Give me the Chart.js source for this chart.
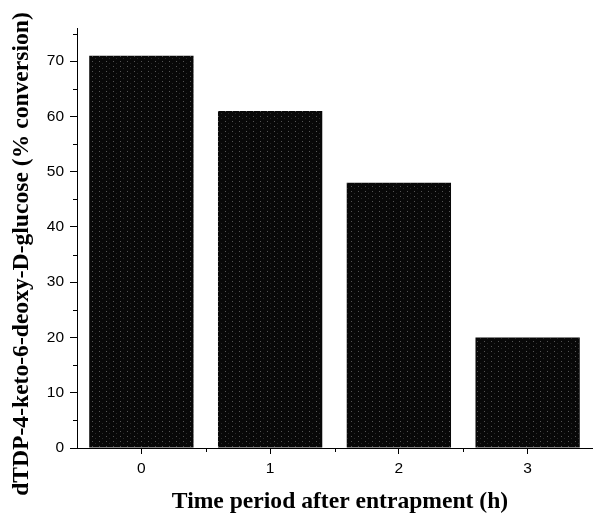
<!DOCTYPE html>
<html>
<head>
<meta charset="utf-8">
<script src="https://cdn.jsdelivr.net/npm/chart.js@4/dist/chart.umd.min.js"></script>
<style>
  body { margin: 0; background: #fff; }
  #wrap { width: 593px; height: 514px; }
</style>
</head>
<body>
<div id="wrap"><canvas id="chart"></canvas></div>
<script>
// data
var labels = ['0', '1', '2', '3'];
var conversion = [71, 61, 48, 20];
var yMax = 76;
var xTitle = 'Time period after entrapment (h)';
var yTitle = 'dTDP-4-keto-6-deoxy-D-glucose (% conversion)';

// dark speckled fill like the scanned bars
function makePattern() {
  var c = document.createElement('canvas');
  c.width = 7; c.height = 5;
  var g = c.getContext('2d');
  g.fillStyle = '#080808';
  g.fillRect(0, 0, 7, 5);
  g.fillStyle = '#555';
  g.fillRect(1, 1, 1, 1);
  g.fillStyle = '#2a2a2a';
  g.fillRect(4, 3, 1, 1);
  return g.createPattern(c, 'repeat');
}

// minor ticks (y every 5, x between categories) and the axis titles
var extras = {
  id: 'extras',
  afterDraw: function (chart) {
    var ctx = chart.ctx;
    var x = chart.scales.x, y = chart.scales.y;
    ctx.save();
    ctx.strokeStyle = '#000';
    ctx.lineWidth = 1;
    ctx.beginPath();
    for (var v = 5; v < yMax; v += 10) {
      var py = Math.round(y.getPixelForValue(v)) + 0.5;
      ctx.moveTo(x.left - 4, py);
      ctx.lineTo(x.left, py);
    }
    for (var i = 0; i < labels.length - 1; i++) {
      var px = Math.round(x.getPixelForValue(i + 0.5)) + 0.5;
      ctx.moveTo(px, y.bottom);
      ctx.lineTo(px, y.bottom + 4);
    }
    ctx.stroke();

    ctx.fillStyle = '#000';
    ctx.font = 'bold 23.6px "Liberation Serif"';
    ctx.textAlign = 'center';
    ctx.textBaseline = 'alphabetic';
    ctx.fillText(xTitle, 340, 508);

    ctx.translate(22, 254);
    ctx.rotate(-Math.PI / 2);
    ctx.textBaseline = 'middle';
    ctx.fillText(yTitle, 0, 0);
    ctx.restore();
  }
};

var ctx = document.getElementById('chart').getContext('2d');
var chart = new Chart(ctx, {
  type: 'bar',
  data: {
    labels: labels,
    datasets: [{
      data: conversion,
      backgroundColor: makePattern(),
      borderWidth: 0,
      barPercentage: 0.81,
      categoryPercentage: 1
    }]
  },
  options: {
    responsive: true,
    maintainAspectRatio: false,
    animation: false,
    layout: { padding: { top: 28, right: 1, left: 0, bottom: 0 } },
    plugins: { legend: { display: false }, tooltip: { enabled: false } },
    scales: {
      x: {
        offset: true,
        grid: { offset: false, drawOnChartArea: false, tickLength: 6, color: '#000' },
        border: { color: '#000', width: 1 },
        ticks: { color: '#000', padding: 5, font: { family: 'Liberation Sans', size: 15.5 } },
        afterFit: function (s) { s.height = 66; }
      },
      y: {
        min: 0,
        max: yMax,
        grid: { drawOnChartArea: false, tickLength: 7, color: '#000' },
        border: { color: '#000', width: 1 },
        ticks: { stepSize: 10, color: '#000', padding: 6, font: { family: 'Liberation Sans', size: 15.5 } },
        afterBuildTicks: function (s) {
          s.ticks = s.ticks.filter(function (t) { return t.value % 10 === 0; });
        },
        afterFit: function (s) { s.width = 77; }
      }
    }
  },
  plugins: [extras]
});
</script>
</body>
</html>
